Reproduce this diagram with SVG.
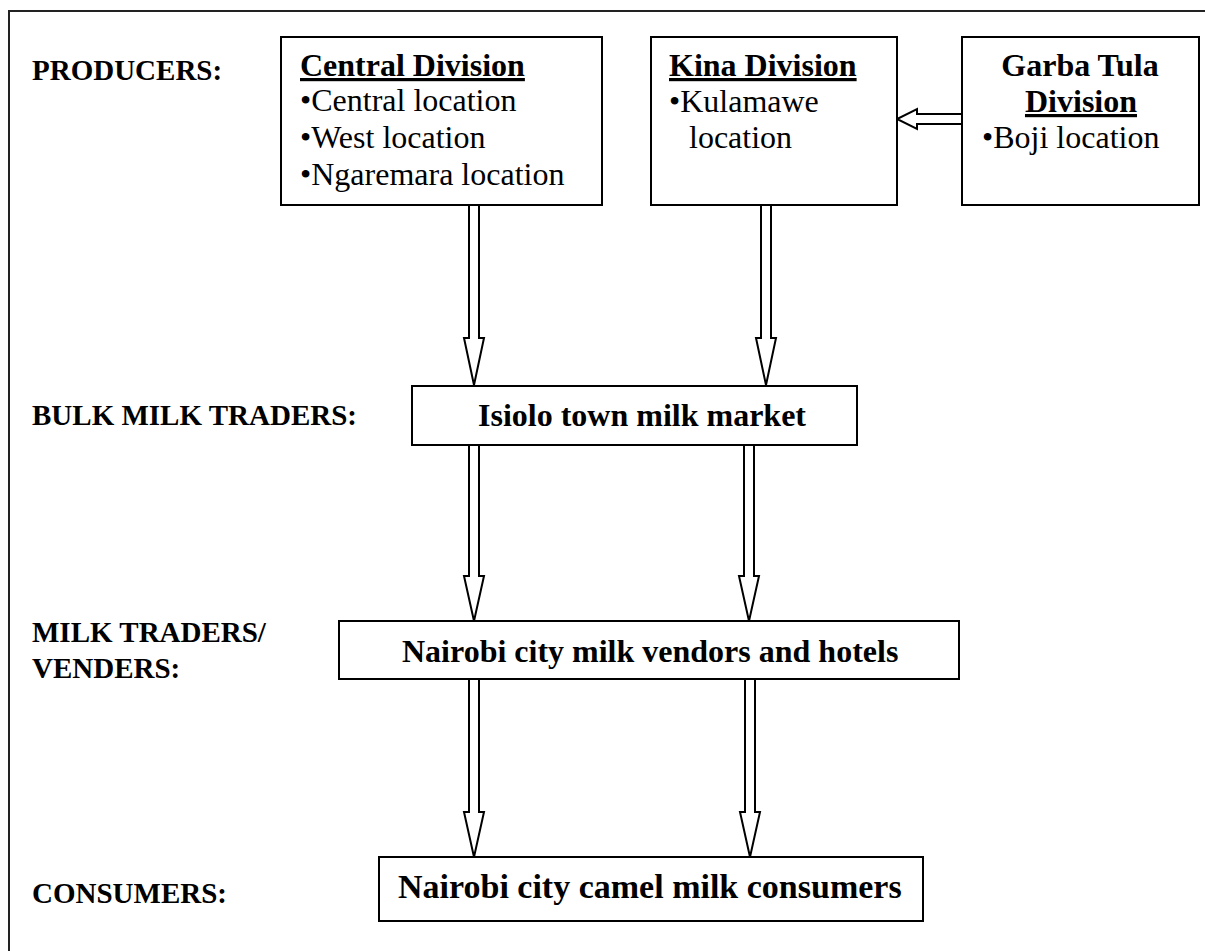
<svg xmlns="http://www.w3.org/2000/svg" width="1205" height="951" viewBox="0 0 1205 951">
<style>
  .lbl { font-family: "Liberation Serif", "Times New Roman", serif; font-size: 29px; font-weight: bold; fill: #000; }
  .hd { font-family: "Liberation Serif", "Times New Roman", serif; font-size: 32px; font-weight: bold; fill: #000; }
  .ul { text-decoration: underline; }
  .tx { font-family: "Liberation Serif", "Times New Roman", serif; font-size: 32px; fill: #000; }
  .box { fill: #fff; stroke: #000; stroke-width: 2; }
  .arr { fill: #fff; stroke: #000; stroke-width: 2; stroke-linejoin: miter; }
</style>
<rect width="1205" height="951" fill="#fff"/>
<rect x="9" y="11" width="1300" height="1100" fill="none" stroke="#222" stroke-width="2"/>

<g id="labels">
  <text class="lbl" x="32" y="80">PRODUCERS:</text>
  <text class="lbl" x="32" y="425">BULK MILK TRADERS:</text>
  <text class="lbl" x="32" y="642">MILK TRADERS/</text>
  <text class="lbl" x="32" y="678">VENDERS:</text>
  <text class="lbl" x="32" y="903">CONSUMERS:</text>
</g>

<g id="connectors">
  <polygon class="arr" points="469,205 479,205 479,338 484,338 474,385 464,338 469,338"/>
  <polygon class="arr" points="761,205 771,205 771,338 776,338 766,385 756,338 761,338"/>
  <polygon class="arr" points="962,114 962,124 917,124 917,129 897,119 917,109 917,114"/>
  <polygon class="arr" points="469,445 479,445 479,576 484,576 474,621 464,576 469,576"/>
  <polygon class="arr" points="744,445 754,445 754,576 759,576 749,621 739,576 744,576"/>
  <polygon class="arr" points="469,679 479,679 479,812 484,812 474,857 464,812 469,812"/>
  <polygon class="arr" points="745,679 755,679 755,812 760,812 750,857 740,812 745,812"/>
</g>

<g id="central-division">
  <rect class="box" x="281" y="37" width="321" height="168"/>
  <text class="hd ul" x="300" y="76">Central Division</text>
  <text class="tx" x="300" y="111">•Central location</text>
  <text class="tx" x="300" y="148">•West location</text>
  <text class="tx" x="300" y="185">•Ngaremara location</text>
</g>

<g id="kina-division">
  <rect class="box" x="651" y="37" width="246" height="168"/>
  <text class="hd ul" x="669" y="76">Kina Division</text>
  <text class="tx" x="669" y="112">•Kulamawe</text>
  <text class="tx" x="689" y="148">location</text>
</g>

<g id="garba-tula-division">
  <rect class="box" x="962" y="37" width="237" height="168"/>
  <text class="hd" x="1080" y="76" text-anchor="middle">Garba Tula</text>
  <text class="hd ul" x="1081" y="112" text-anchor="middle">Division</text>
  <text class="tx" x="982" y="148">•Boji location</text>
</g>

<g id="isiolo-market">
  <rect class="box" x="412" y="386" width="445" height="59"/>
  <text class="hd" x="478" y="426">Isiolo town milk market</text>
</g>

<g id="nairobi-vendors">
  <rect class="box" x="339" y="621" width="620" height="58"/>
  <text class="hd" x="402" y="662">Nairobi city milk vendors and hotels</text>
</g>

<g id="nairobi-consumers">
  <rect class="box" x="379" y="857" width="544" height="64"/>
  <text class="hd" x="398" y="898" style="font-size:34px">Nairobi city camel milk consumers</text>
</g>
</svg>
